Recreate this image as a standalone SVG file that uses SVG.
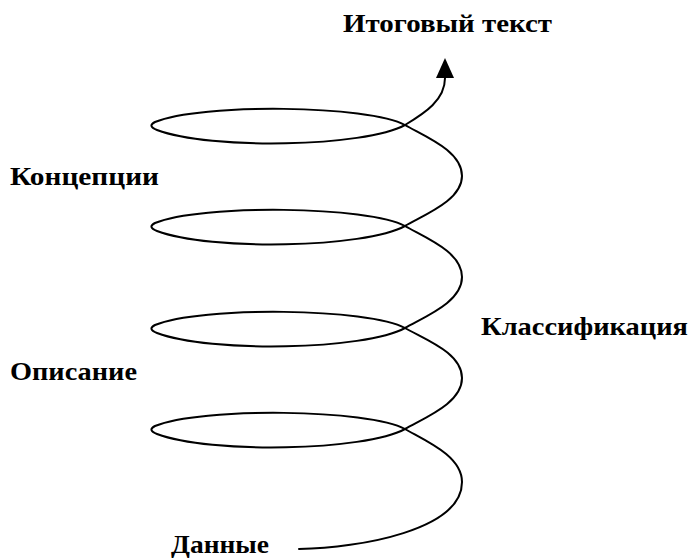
<svg xmlns="http://www.w3.org/2000/svg" width="695" height="560" viewBox="0 0 695 560">
<style>
.lbl{font-family:"Liberation Serif","DejaVu Serif",serif;font-weight:bold;font-size:25px;fill:#000}
.sp{fill:none;stroke:#000;stroke-width:2;stroke-linecap:round;stroke-linejoin:round}
</style>
<defs>
<marker id="ah" markerUnits="userSpaceOnUse" markerWidth="20" markerHeight="18" viewBox="0 0 20 18" refX="0" refY="9" orient="auto">
<path d="M0,0 L20,9 L0,18 Z" fill="#000"/>
</marker>
</defs>
<rect width="695" height="560" fill="#fff"/>
<g id="connectors">
<path class="sp" marker-end="url(#ah)" d="M299,549 C360,548 462,530 462,482 C462,456 426,441 405,429 C370,409 200,407 155,426 Q147,430 157,434 C210,454 365,451 405,429 C426,417 462,403 462,378 C462,353 426,340 405,328 C370,308 200,306 155,325 Q147,329 157,333 C210,353 365,350 405,328 C426,316 462,302 462,277 C462,252 426,238 405,226 C370,206 200,204 155,223 Q147,227 157,231 C210,251 365,248 405,226 C426,214 462,200 462,176 C462,151 426,137 405,125 C370,105 200,103 155,122 Q147,126 157,130 C210,150 365,147 405,125 C425,113 445,100 445,78"/>
</g>
<g id="n-itog"><text class="lbl" x="343" y="32" textLength="209" lengthAdjust="spacingAndGlyphs">Итоговый текст</text></g>
<g id="n-konc"><text class="lbl" x="10" y="185" textLength="149" lengthAdjust="spacingAndGlyphs">Концепции</text></g>
<g id="n-klass"><text class="lbl" x="481" y="335" textLength="207" lengthAdjust="spacingAndGlyphs">Классификация</text></g>
<g id="n-opis"><text class="lbl" x="10" y="380" textLength="127" lengthAdjust="spacingAndGlyphs">Описание</text></g>
<g id="n-dann"><text class="lbl" x="171" y="553" textLength="98" lengthAdjust="spacingAndGlyphs">Данные</text></g>
</svg>
